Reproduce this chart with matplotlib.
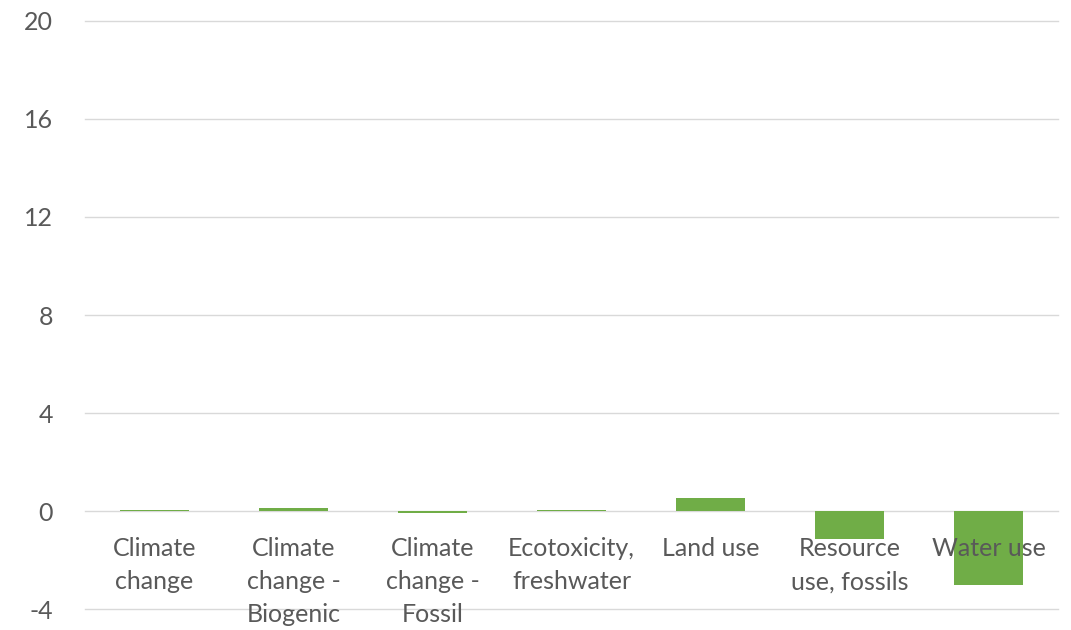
import matplotlib.pyplot as plt
from matplotlib import transforms

# Impact categories and their values
categories = ["Climate\nchange", "Climate\nchange -\nBiogenic", "Climate\nchange -\nFossil",
              "Ecotoxicity,\nfreshwater", "Land use", "Resource\nuse, fossils", "Water use"]
values = [0.05, 0.13, -0.07, 0.05, 0.55, -1.15, -3.0]
yticks = [-4, 0, 4, 8, 12, 16, 20]

plt.rcParams['font.family'] = ['Lato', 'DejaVu Sans']
text_color = '#595959'

fig = plt.figure(figsize=(10.71, 6.3), dpi=100)
ax = fig.add_axes([0.0794, 0.0333, 0.9086, 0.9334])

x = range(len(categories))
ax.bar(x, values, width=0.5, color='#70ad47', zorder=2)

ax.set_xlim(-0.5, len(categories) - 0.5)
ax.set_ylim(-4, 20)
ax.set_yticks(yticks)
ax.set_yticklabels([str(t) for t in yticks], fontsize=18, color=text_color)
ax.tick_params(axis='y', length=0, pad=23)
ax.set_xticks([])
for t in yticks:
    ax.axhline(t, color='#d9d9d9', linewidth=1, zorder=0, clip_on=False)
for s in ax.spines.values():
    s.set_visible(False)

# Category labels sit just below the zero line
trans = transforms.blended_transform_factory(ax.transData, ax.transData)
for i, lab in enumerate(categories):
    ax.annotate(lab, xy=(i, 0), xycoords=trans, xytext=(0, -19),
                textcoords='offset points', ha='center', va='top',
                fontsize=18, color=text_color, linespacing=1.52, zorder=3)

plt.savefig("out.png", dpi=100)
